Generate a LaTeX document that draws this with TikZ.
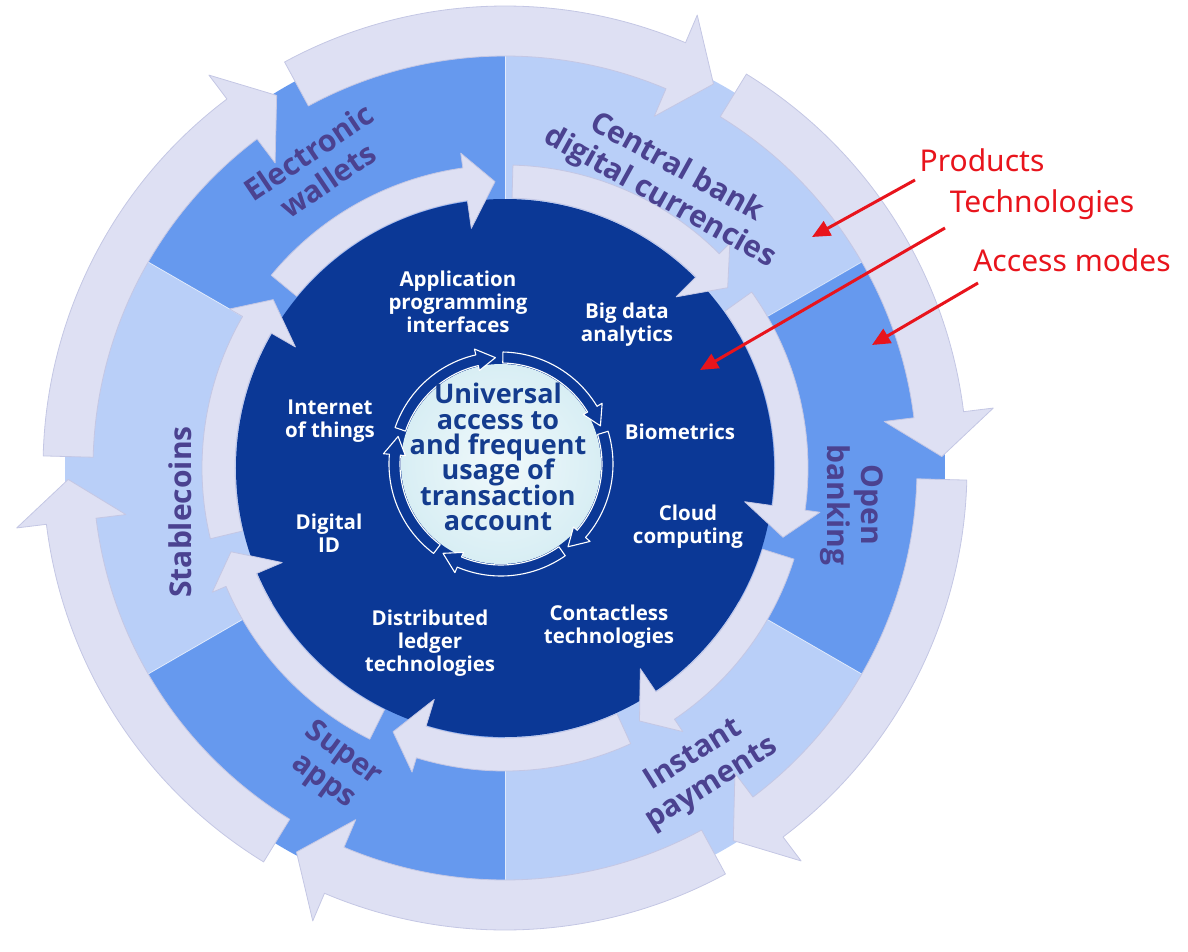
\documentclass[tikz,border=0pt]{standalone}
\usepackage{fontspec}
\setmainfont{Open Sans}
\newfontfamily\redfont{Noto Sans}
\usetikzlibrary{arrows.meta}
\definecolor{dsec}{HTML}{6699EE}
\definecolor{lsec}{HTML}{B9CFF8}
\definecolor{navy}{HTML}{0B3896}
\definecolor{lav}{HTML}{DEE0F3}
\definecolor{lavedge}{HTML}{C4C7E4}
\definecolor{coreinner}{HTML}{F0F9FB}
\definecolor{coreouter}{HTML}{D8EEF4}
\definecolor{coretext}{HTML}{143C8E}
\definecolor{prodtext}{HTML}{4B4290}
\definecolor{redann}{HTML}{E8141C}
\newcommand{\tightlines}{\lineskiplimit=-30pt\relax}
% #1 style, #2 tail angle, #3 head base angle, #4 tip angle, #5 r in, #6 r out, #7 barb in, #8 barb out
\newcommand{\ringarrow}[8]{%
  \pgfmathsetmacro{\rmid}{(#5+#6)/2}%
  \path[#1] (#2:#6pt) arc[start angle=#2, end angle=#3, radius=#6pt] -- (#3:#8pt) -- (#4:\rmid pt) -- (#3:#7pt) -- (#3:#5pt) arc[start angle=#3, end angle=#2, radius=#5pt] -- cycle;}
\begin{document}
\begin{tikzpicture}[x=1pt,y=1pt,
  lavarrow/.style={fill=lav, draw=lavedge, line width=0.8pt, line join=round},
  corearrow/.style={fill=navy, draw=white, line width=1.1pt, line join=round},
  techlabel/.style={text=white, font=\fontsize{20.5}{23}\selectfont\bfseries, align=center, inner sep=0pt},
  prodlabel/.style={text=prodtext, font=\fontsize{30}{34}\selectfont\bfseries, align=center, inner sep=0pt},
  corelabel/.style={text=coretext, font=\fontsize{27}{25.4}\selectfont\bfseries\tightlines, align=center, inner sep=0pt},
  redlabel/.style={text=redann, font=\redfont\fontsize{30}{32}\selectfont, inner sep=0pt},
  redarrow/.style={draw=redann, line width=3pt, -{Triangle[length=18pt,width=16pt]}}]
\path[use as bounding box] (-505,-483) rectangle (683,468);
% sectors
\foreach \a/\c in {90/dsec, 30/lsec, -30/dsec, -90/lsec, -150/dsec, 150/lsec}
  \fill[\c] (0,0) -- (\a:440pt) arc[start angle=\a, end angle=\a+60, radius=440pt] -- cycle;
\foreach \a in {30,90,150,210,270,330}
  \draw[white, opacity=.6, line width=.8pt] (\a:269pt) -- (\a:440pt);
% dark disk
\fill[navy] (0,0) circle[radius=269pt];
% outer arrows
\ringarrow{lavarrow}{118.5}{67}{61.5}{412}{462}{382}{492}
\ringarrow{lavarrow}{58.5}{7}{1.5}{412}{462}{382}{492}
\ringarrow{lavarrow}{-1.5}{-53}{-58.5}{412}{462}{382}{492}
\ringarrow{lavarrow}{-61.5}{-113}{-118.5}{412}{462}{382}{492}
\ringarrow{lavarrow}{-121.5}{-173}{-178.5}{412}{462}{382}{492}
\ringarrow{lavarrow}{178.5}{127}{121.5}{412}{462}{382}{492}
% technology ring arrows
\ringarrow{lavarrow}{140.5}{98}{92}{270}{303}{242}{318}
\ringarrow{lavarrow}{88.5}{45}{39}{270}{303}{242}{318}
\ringarrow{lavarrow}{35.5}{-8}{-14}{270}{303}{242}{318}
\ringarrow{lavarrow}{-17.5}{-56}{-62}{270}{303}{242}{318}
\ringarrow{lavarrow}{-65.5}{-107}{-113}{270}{303}{242}{318}
\ringarrow{lavarrow}{-116.5}{-157}{-163}{270}{303}{242}{318}
\ringarrow{lavarrow}{193.5}{150}{144}{270}{303}{242}{318}
% core
\begin{scope}[shift={(-4,4)}]
  \shade[inner color=coreinner, outer color=coreouter] (0,0) circle[radius=100pt];
  \ringarrow{corearrow}{161}{103}{93}{101}{112}{96}{118}
  \ringarrow{corearrow}{89}{31}{21}{101}{112}{96}{118}
  \ringarrow{corearrow}{17}{-41}{-51}{101}{112}{96}{118}
  \ringarrow{corearrow}{-55}{-113}{-123}{101}{112}{96}{118}
  \ringarrow{corearrow}{233}{175}{165}{101}{112}{96}{118}
\end{scope}
\node[corelabel] (core) at (-7,11) {Universal\\access to\\and frequent\\usage of\\transaction\\account};
% technology labels
\node[techlabel] (api) at (-47,166) {Application\\programming\\interfaces};
\node[techlabel] (bigdata) at (122,143) {Big data\\analytics};
\node[techlabel] (bio) at (175,36) {Biometrics};
\node[techlabel] (cloud) at (183,-59) {Cloud\\computing};
\node[techlabel] (contact) at (104,-159) {Contactless\\technologies};
\node[techlabel] (dlt) at (-75,-175) {Distributed\\ledger\\technologies};
\node[techlabel] (did) at (-176,-65) {Digital\\ID};
\node[techlabel] (iot) at (-175,47) {Internet\\of things};
% product labels
\node[prodlabel, rotate=34] (ew) at (-187,302) {Electronic\\wallets};
\node[prodlabel, rotate=-29] (cbdc) at (163,285) {Central bank\\digital currencies};
\node[prodlabel, rotate=-90] (ob) at (347,-37) {Open\\banking};
\node[prodlabel, rotate=32] (ip) at (198,-302) {Instant\\payments};
\node[prodlabel, rotate=-36] (sa) at (-172,-300) {Super\\apps};
\node[prodlabel, rotate=90] (sc) at (-325,-44) {Stablecoins};
% red annotations
\node[redlabel] (prod) at (477,308) {Products};
\node[redlabel] (tech) at (537,263) {Technologies};
\node[redlabel] (acc) at (567,208) {Access modes};
\coordinate (prodS) at (410,288);
\coordinate (prodE) at (307,231);
\coordinate (techS) at (440,240);
\coordinate (techE) at (195,98);
\coordinate (accS) at (473,185);
\coordinate (accE) at (367,123);
\draw[redarrow] (prodS) -- (prodE);
\draw[redarrow] (techS) -- (techE);
\draw[redarrow] (accS) -- (accE);
\end{tikzpicture}
\end{document}
